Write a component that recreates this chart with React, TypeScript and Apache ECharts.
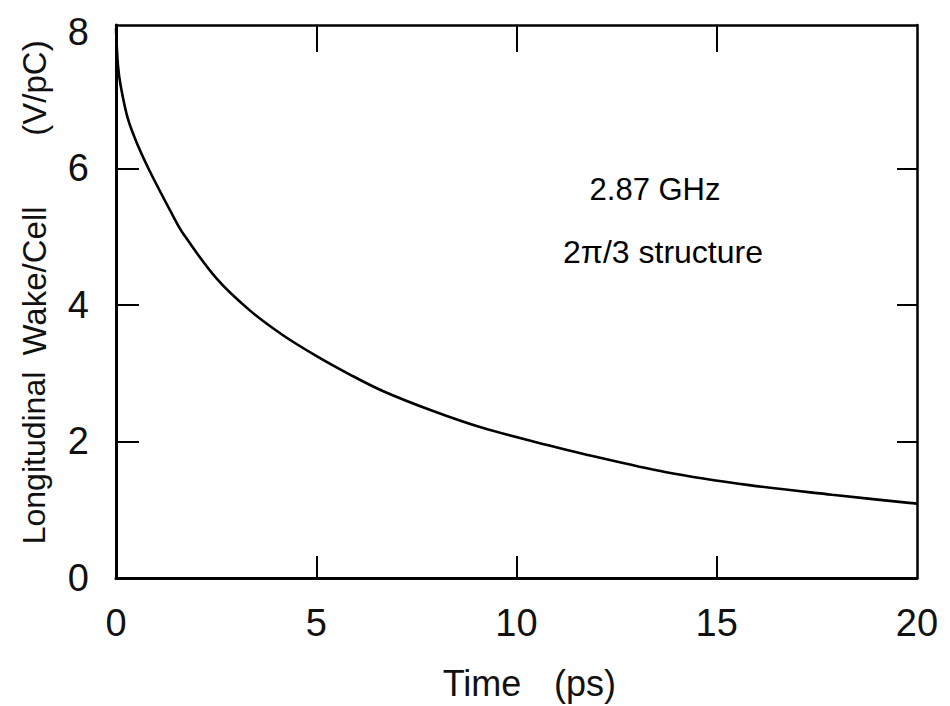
import React, { useEffect, useRef } from "react";
import * as echarts from "echarts";

// Time (ps) and longitudinal wake per cell (V/pC)
const timePs = [0, 0.05, 0.12, 0.3, 0.55, 0.85, 1.4, 1.67, 2.52, 3.34, 4.16, 5.01, 5.84, 6.66, 7.9, 9.15, 10.82, 11.65, 13.74, 15.81, 17.88, 19.8, 20];
const wakeVpC = [8.05, 7.5, 7.2, 6.72, 6.33, 5.95, 5.33, 5.05, 4.38, 3.92, 3.56, 3.25, 2.98, 2.74, 2.45, 2.2, 1.94, 1.82, 1.55, 1.36, 1.22, 1.1, 1.09];

const xTickLabels = [0, 5, 10, 15, 20];
const yTickLabels = [0, 2, 4, 6, 8];
const xInnerTicks = [5, 10, 15];
const yInnerTicks = [2, 4, 6];

const annotationLines = ["2.87 GHz", "2π/3 structure"];
const xTitleParts = ["Time", "(ps)"];
const yTitleParts = ["Longitudinal", "Wake/Cell", "(V/pC)"];

const FONT = '"Liberation Sans", Arial, sans-serif';

export default function App() {
  const ref = useRef<HTMLDivElement>(null);

  useEffect(() => {
    if (!ref.current) return;
    const chart = echarts.init(ref.current, null, { renderer: "svg" });
    const data = timePs.map((t, i) => [t, wakeVpC[i]]);

    const tickStyle = { color: "#000", width: 2 };
    const text = (
      str: string,
      x: number,
      y: number,
      fontSize: number,
      rotation = 0,
      fill = "#111"
    ) => ({
      type: "text",
      x,
      y,
      rotation,
      style: {
        text: str,
        fontSize,
        fontFamily: FONT,
        fill,
        align: "center",
        verticalAlign: "middle",
      },
    });

    chart.setOption({
      animation: false,
      backgroundColor: "#fff",
      grid: { left: 116, right: 33, top: 25, bottom: 128, containLabel: false },
      xAxis: [
        {
          type: "value",
          min: 0,
          max: 20,
          interval: 5,
          position: "bottom",
          axisLine: { show: true, onZero: false, lineStyle: { color: "#000", width: 3 } },
          axisTick: { show: true, inside: true, length: 22, lineStyle: tickStyle, customValues: xInnerTicks },
          axisLabel: {
            show: true,
            margin: 26,
            fontSize: 38,
            fontFamily: FONT,
            color: "#111",
            customValues: xTickLabels,
          },
          splitLine: { show: false },
        },
        {
          type: "value",
          min: 0,
          max: 20,
          interval: 5,
          position: "top",
          axisLine: { show: true, onZero: false, lineStyle: { color: "#000", width: 2.5 } },
          axisTick: { show: true, inside: true, length: 27, lineStyle: tickStyle, customValues: xInnerTicks },
          axisLabel: { show: false },
          splitLine: { show: false },
        },
      ],
      yAxis: [
        {
          type: "value",
          min: 0,
          max: 8.1,
          interval: 2,
          position: "left",
          axisLine: { show: true, onZero: false, lineStyle: { color: "#000", width: 3 } },
          axisTick: { show: true, inside: true, length: 23, lineStyle: tickStyle, customValues: yInnerTicks },
          axisLabel: {
            show: true,
            margin: 27,
            fontSize: 38,
            fontFamily: FONT,
            color: "#111",
            customValues: yTickLabels,
          },
          splitLine: { show: false },
        },
        {
          type: "value",
          min: 0,
          max: 8.1,
          interval: 2,
          position: "right",
          axisLine: { show: true, onZero: false, lineStyle: { color: "#000", width: 2.5 } },
          axisTick: { show: true, inside: true, length: 20, lineStyle: tickStyle, customValues: yInnerTicks },
          axisLabel: { show: false },
          splitLine: { show: false },
        },
      ],
      series: [
        {
          type: "line",
          data,
          xAxisIndex: 0,
          yAxisIndex: 0,
          showSymbol: false,
          smooth: 0.35,
          lineStyle: { color: "#000", width: 2.6 },
          z: 5,
        },
      ],
      graphic: [
        text(annotationLines[0], 655, 189, 31, 0, "#000"),
        text(annotationLines[1], 663, 252, 32, 0, "#000"),
        text(xTitleParts[0], 482, 683, 36),
        text(xTitleParts[1], 585, 683, 36),
        text(yTitleParts[0], 34, 458, 32, Math.PI / 2),
        text(yTitleParts[1], 34, 281, 33, Math.PI / 2),
        text(yTitleParts[2], 34, 88, 33, Math.PI / 2),
      ],
    });

    return () => chart.dispose();
  }, []);

  return (
    <div
      ref={ref}
      style={{ position: "fixed", left: 0, top: 0, width: 950, height: 706, background: "#fff" }}
    />
  );
}
